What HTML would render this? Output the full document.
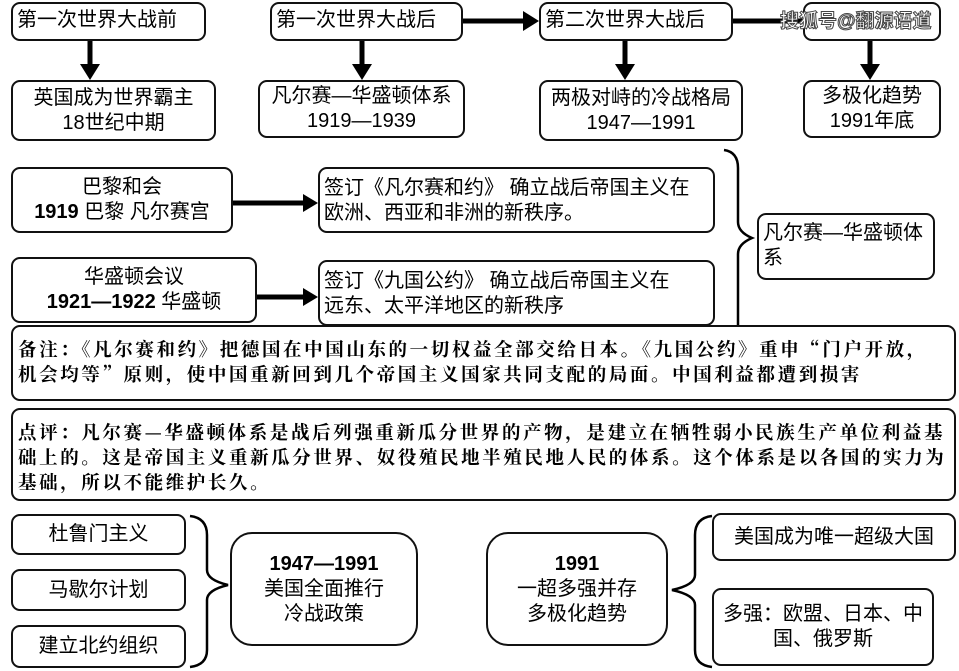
<!DOCTYPE html>
<html><head><meta charset="utf-8"><style>
body{margin:0;width:959px;height:671px;background:#fff;position:relative;overflow:hidden;font-family:"Liberation Sans","Noto Sans CJK SC",sans-serif;color:#000}
.b{position:absolute;border:2px solid #111;border-radius:9px;box-sizing:border-box;background:#fff;font-size:20px;line-height:25px}
.c{display:flex;flex-direction:column;justify-content:center;align-items:center;text-align:center}
.l{padding:4px 0 0 4px}
.n{font-family:"Noto Serif CJK SC","Liberation Serif",serif;font-weight:bold;font-size:18.5px;letter-spacing:2.6px;line-height:25px;padding:10px 0 0 5px}
svg{position:absolute;left:0;top:0}
</style></head><body>
<svg width="959" height="671">
<g stroke="#000" stroke-width="5" fill="#000">
<line x1="90" y1="40" x2="90" y2="66"/><polygon points="80,64 100,64 90,80" stroke="none"/>
<line x1="362" y1="40" x2="362" y2="66"/><polygon points="352,64 372,64 362,80" stroke="none"/>
<line x1="625" y1="40" x2="625" y2="66"/><polygon points="615,64 635,64 625,80" stroke="none"/>
<line x1="870" y1="40" x2="870" y2="66"/><polygon points="860,64 880,64 870,80" stroke="none"/>
<line x1="462" y1="21" x2="525" y2="21"/><polygon points="523,11 523,31 539,21" stroke="none"/>
<line x1="732" y1="21" x2="805" y2="21"/>
<line x1="233" y1="203" x2="305" y2="203"/><polygon points="303,194 303,212 318,203" stroke="none"/>
<line x1="256" y1="297" x2="305" y2="297"/><polygon points="303,288 303,306 318,297" stroke="none"/>
</g>
<g stroke="#000" stroke-width="2.5" fill="none">
<path d="M724,150 Q738,152 738,168 L738,222 Q738,232 752,238 Q738,244 738,254 L738,325"/>
<path d="M190,516 Q207,518 207,535 L207,570 Q207,580 228,585 Q207,590 207,600 L207,650 Q207,665 190,667"/>
<path d="M712,516 Q695,518 695,535 L695,575 Q695,585 672,590 Q695,595 695,605 L695,650 Q695,665 712,667"/>
</g>
</svg>
<div class="b l" style="left:11px;top:2px;width:195px;height:39px">第一次世界大战前</div>
<div class="b l" style="left:270px;top:2px;width:193px;height:39px">第一次世界大战后</div>
<div class="b l" style="left:539px;top:2px;width:194px;height:39px">第二次世界大战后</div>
<div class="b" style="left:803px;top:2px;width:138px;height:39px"></div>
<div style="position:absolute;left:780px;top:6px;font-size:19px;color:#fff;-webkit-text-stroke:1px #444;font-weight:bold">搜狐号@翻源语道</div>
<div class="b c" style="left:11px;top:80px;width:205px;height:61px">英国成为世界霸主<br>18世纪中期</div>
<div class="b c" style="left:258px;top:80px;width:207px;height:58px">凡尔赛—华盛顿体系<br>1919—1939</div>
<div class="b c" style="left:539px;top:80px;width:204px;height:61px">两极对峙的冷战格局<br>1947—1991</div>
<div class="b c" style="left:803px;top:80px;width:138px;height:58px">多极化趋势<br>1991年底</div>
<div class="b c" style="left:11px;top:167px;width:222px;height:66px">巴黎和会<br><span><b>1919</b> 巴黎 凡尔赛宫</span></div>
<div class="b" style="left:318px;top:167px;width:397px;height:66px;padding:7px 0 0 4px">签订《凡尔赛和约》 确立战后帝国主义在<br>欧洲、西亚和非洲的新秩序。</div>
<div class="b c" style="left:11px;top:257px;width:246px;height:66px">华盛顿会议<br><span><b>1921—1922</b> 华盛顿</span></div>
<div class="b" style="left:318px;top:260px;width:397px;height:66px;padding:7px 0 0 4px">签订《九国公约》 确立战后帝国主义在<br>远东、太平洋地区的新秩序</div>
<div class="b" style="left:757px;top:213px;width:178px;height:67px;padding:6px 0 0 4px">凡尔赛—华盛顿体<br>系</div>
<div class="b n" style="left:11px;top:325px;width:945px;height:76px">备注：《凡尔赛和约》把德国在中国山东的一切权益全部交给日本。《九国公约》重申“门户开放，<br>机会均等”原则，使中国重新回到几个帝国主义国家共同支配的局面。中国利益都遭到损害</div>
<div class="b n" style="left:11px;top:408px;width:945px;height:93px">点评：凡尔赛—华盛顿体系是战后列强重新瓜分世界的产物，是建立在牺牲弱小民族生产单位利益基<br>础上的。这是帝国主义重新瓜分世界、奴役殖民地半殖民地人民的体系。这个体系是以各国的实力为<br>基础，所以不能维护长久。</div>
<div class="b c" style="left:11px;top:514px;width:175px;height:41px">杜鲁门主义</div>
<div class="b c" style="left:11px;top:569px;width:175px;height:42px">马歇尔计划</div>
<div class="b c" style="left:11px;top:625px;width:175px;height:43px">建立北约组织</div>
<div class="b c" style="left:230px;top:532px;width:188px;height:114px;border-radius:22px"><b>1947—1991</b>美国全面推行<br>冷战政策</div>
<div class="b c" style="left:486px;top:532px;width:182px;height:114px;border-radius:22px"><b>1991</b>一超多强并存<br>多极化趋势</div>
<div class="b c" style="left:712px;top:513px;width:244px;height:48px">美国成为唯一超级大国</div>
<div class="b c" style="left:712px;top:588px;width:222px;height:78px">多强：欧盟、日本、中<br>国、俄罗斯</div>
</body></html>
